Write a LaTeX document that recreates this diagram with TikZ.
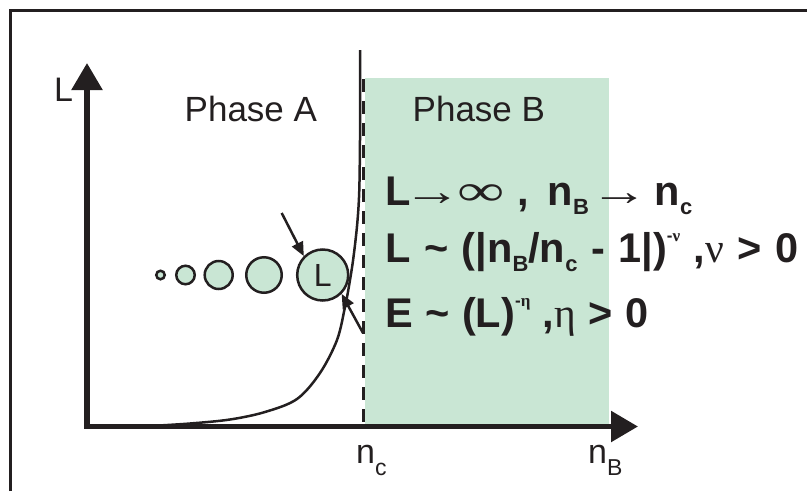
\documentclass[tikz,border=0pt]{standalone}
\usepackage{fontspec}
\setmainfont{Liberation Sans}
\newfontfamily\symf{Liberation Serif}
\usetikzlibrary{arrows.meta}
\definecolor{phasegreen}{RGB}{201,230,212}
\definecolor{ink}{RGB}{35,31,32}
\newcommand\fs[1]{\fontsize{#1}{#1}\selectfont}
\newcommand\axsub[1]{\raisebox{-12pt}{\fs{23}#1}}
\newcommand\fsub[1]{\raisebox{-9pt}{\fs{22}\bfseries #1}}
\newcommand\fsup[1]{\raisebox{21pt}{\fs{17}#1}}
\newcommand\tld{{\char"7E}}
\newcommand\gapa{\hspace{13.5pt}}
\newcommand\gapb{\hspace{12.5pt}}
\newcommand\longar{{\symf\mdseries\scalebox{1.4}[1]{→}}}
\begin{document}
\begin{tikzpicture}[x=1pt,y=-1pt,line join=miter,
  frameline/.style={draw=ink,line width=3pt},
  axisline/.style={draw=ink,line width=5.5pt},
  bigtip/.style={{Triangle[width=30pt,length=27pt]}-{Triangle[width=30pt,length=27pt]}},
  smalltip/.style={-{Triangle[width=12pt,length=14pt]}},
  thinline/.style={draw=ink,line width=2.5pt},
  bubble/.style={circle,draw=ink,fill=phasegreen,line width=2.5pt,inner sep=0pt},
  lab/.style={font=\fs{34},text=ink,inner sep=0pt},
  formula/.style={anchor=base west,font=\fs{41.5}\bfseries,text=ink,inner sep=0pt},
  fpiece/.style={anchor=base,font=\fs{41.5}\bfseries,text=ink,inner sep=0pt}]
\useasboundingbox (0,0) rectangle (807,491);
% phase B region
\fill[phasegreen] (365,78) rectangle (609,424);
% frame
\coordinate (fbl) at (10.5,491);
\coordinate (ftl) at (10.5,10.5);
\coordinate (ftr) at (807,10.5);
\draw[frameline] (fbl) -- (ftl) -- (ftr);
% axes
\coordinate (ytip) at (87,63);
\coordinate (origin) at (87,426.5);
\coordinate (xtip) at (638,426.5);
\draw[axisline,bigtip] (ytip) -- (origin) -- (xtip);
% critical dashed line
\coordinate (dtop) at (363,79);
\coordinate (dbot) at (363,424);
\draw[draw=ink,line width=3pt,dash pattern=on 13pt off 9pt] (dtop) -- (dbot);
% divergence curve
\coordinate (ctop) at (360,50);
\draw[thinline] plot[smooth,tension=0.55] coordinates {
 (150,426) (190,423.5) (230,419.5) (265,412) (297,399) (320,373) (337,340)
 (345,307) (349.5,283) (353.5,257) (357.3,223) (359.3,190) (360,140)} -- (ctop);
% bubbles
\node[bubble,minimum size=8.5pt] (c1) at (160.5,275) {};
\node[bubble,minimum size=18.5pt] (c2) at (185.5,275) {};
\node[bubble,minimum size=28pt] (c3) at (218.7,275) {};
\node[bubble,minimum size=35.5pt] (c4) at (264,275) {};
\node[bubble,minimum size=51pt] (cL) at (322.7,275) {};
\node[lab,font=\fs{32}] (cLtext) at (cL) {L};
% arrows to the big bubble
\coordinate (a1) at (281.7,213);
\coordinate (a2) at (363,333);
\draw[thinline,smalltip] (a1) -- (cL.135);
\draw[thinline,smalltip] (a2) -- (cL.-45);
% labels
\node[lab,anchor=base west] (ylab) at (54,101) {L};
\node[lab,anchor=base west,font=\fs{35}] (phA) at (184.5,121) {Phase A};
\node[lab,anchor=base west,font=\fs{35}] (phB) at (412.5,121) {Phase B};
\node[lab,anchor=base west] (nc) at (356,463) {n\axsub{c}};
\node[lab,anchor=base west] (nB) at (588,463) {n\axsub{B}};
% formula row 1
\node[formula] (r1L) at (385,205) {L};
\node[fpiece] (r1ar1) at (432.5,205) {\longar};
\node[fpiece] (r1inf) at (481,205) {{\symf\mdseries\scalebox{1.6}[1.05]{∞}}};
\node[fpiece] (r1com) at (523,205) {,};
\node[formula] (r1nB) at (547.5,205) {n\fsub{B}};
\node[fpiece] (r1ar2) at (620,205) {\longar};
\node[formula] (r1nc) at (654.5,205) {n\fsub{c}};
% formula rows 2 and 3
\node[formula] (row2) at (385,262) {L\gapa\tld\gapa(|n\fsub{B}/n\fsub{c}\gapa-\gapa1|)\fsup{-{\symf ν}}\gapa,{\symf\mdseries ν}\gapa>\gapa0};
\node[formula] (row3) at (385,327) {E\gapb\tld\gapb(L)\fsup{-{\symf η}}\gapb,{\symf\mdseries η}\gapb>\gapb0};
\end{tikzpicture}
\end{document}
